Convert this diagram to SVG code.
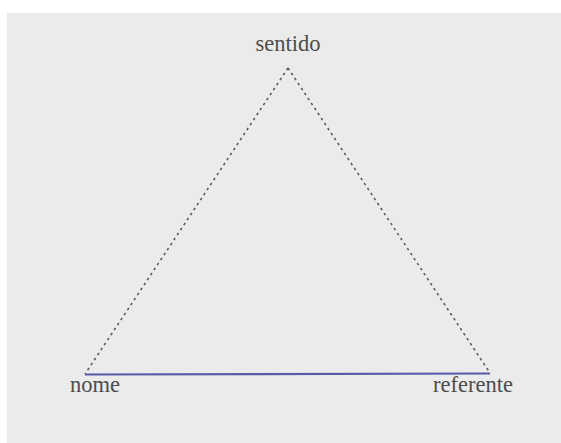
<svg xmlns="http://www.w3.org/2000/svg" width="561" height="443" viewBox="0 0 561 443">
<style>
.lbl{font-family:"Liberation Serif","Times New Roman",serif;font-size:22.5px;fill:#4d4d4d;}
.dash{stroke:#5a5a5a;stroke-width:1.6;stroke-dasharray:2.5 3.5;fill:none;}
</style>
<rect x="0" y="0" width="561" height="443" fill="#ffffff"/>
<rect x="7" y="13" width="554" height="430" fill="#ebebeb"/>
<g id="connectors">
<line class="dash" x1="288" y1="68" x2="85" y2="374"/>
<line class="dash" x1="288" y1="68" x2="490" y2="373"/>
<line x1="85" y1="374.5" x2="490" y2="373.5" stroke="#5a5aa8" stroke-width="2.2"/>
</g>
<g id="sentido"><text class="lbl" x="288" y="51" text-anchor="middle">sentido</text></g>
<g id="nome"><text class="lbl" x="70" y="392">nome</text></g>
<g id="referente"><text class="lbl" x="433" y="392">referente</text></g>
</svg>
